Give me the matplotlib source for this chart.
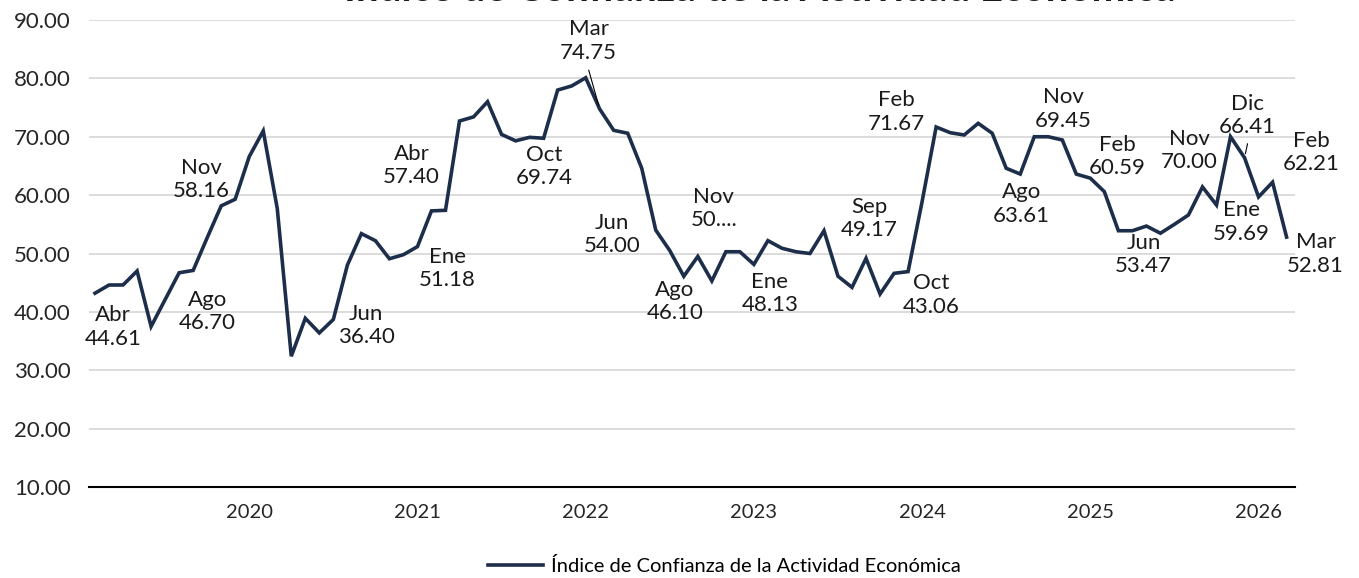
import matplotlib
matplotlib.use("Agg")
import matplotlib.pyplot as plt
import numpy as np
import pandas as pd

# Monthly index, Feb 2019 .. Mar 2026
months = pd.date_range("2019-02-01", periods=86, freq="MS")
values = [
    43.2, 44.6, 44.61, 47.0, 37.5, 42.1, 46.70, 47.1, 52.7, 58.16, 59.3,
    66.6, 71.0, 57.7, 32.4, 38.9, 36.40, 38.7, 48.0, 53.4, 52.2, 49.1, 49.8,
    51.18, 57.3, 57.40, 72.7, 73.4, 76.0, 70.4, 69.3, 69.9, 69.74, 78.0, 78.7,
    80.1, 74.75, 71.1, 70.6, 64.6, 54.00, 50.5, 46.10, 49.5, 45.3, 50.3, 50.3,
    48.13, 52.2, 50.9, 50.3, 50.0, 53.9, 46.1, 44.2, 49.17, 43.06, 46.6, 46.9,
    58.9, 71.67, 70.7, 70.3, 72.3, 70.6, 64.6, 63.61, 70.0, 70.0, 69.45, 63.6,
    62.9, 60.59, 53.9, 53.9, 54.7, 53.47, 55.0, 56.6, 61.4, 58.3, 70.00, 66.41,
    59.69, 62.21, 52.81,
]

# data labels: point index -> text
label_idx = [2, 6, 9, 16, 23, 25, 32, 36, 40, 42, 45, 47, 55, 56, 60, 66,
             69, 72, 76, 81, 82, 83, 84, 85]
label_text = [
    "Abr\n44.61", "Ago\n46.70", "Nov\n58.16", "Jun\n36.40", "Ene\n51.18",
    "Abr\n57.40", "Oct\n69.74", "Mar\n74.75", "Jun\n54.00", "Ago\n46.10",
    "Nov\n50....", "Ene\n48.13", "Sep\n49.17", "Oct\n43.06", "Feb\n71.67",
    "Ago\n63.61", "Nov\n69.45", "Feb\n60.59", "Jun\n53.47", "Nov\n70.00",
    "Dic\n66.41", "Ene\n59.69", "Feb\n62.21", "Mar\n52.81",
]
# label offsets from the point, in pixels (x right, y down)
label_off = [
    (-10, 42), (28, 39), (-20, -26), (47, -7), (30, 22), (-34, -45),
    (1, 28), (-11, -68), (-44, 4), (-9, 25), (-12, -43), (16, 29),
    (3, -40), (51, 1), (-40, -15), (1, 30), (1, -31), (13, -35),
    (-17, 21), (-41, 14), (3, -42), (-17, 25), (39, -30), (29, 17),
]
leader_idx = [36, 82]

yticks = [10, 20, 30, 40, 50, 60, 70, 80, 90]
title = "Índice de Confianza de la Actividad Económica"
series_name = "Índice de Confianza de la Actividad Económica"

LINE = "#1d2e4b"
plt.rcParams["font.family"] = ["Lato", "DejaVu Sans"]

fig = plt.figure(figsize=(13.59, 5.78), dpi=100)
ax = fig.add_axes([89 / 1359, 1 - 487 / 578, (1295 - 89) / 1359, (487 - 20) / 578])

x = np.arange(len(values))
ax.plot(x, values, color=LINE, lw=2.6, solid_joinstyle="miter", label=series_name,
        zorder=3)

ax.set_xlim(-0.43, 85.6)
ax.set_ylim(10, 90)
ax.set_yticks(yticks)
ax.set_yticklabels([f"{v:.2f}" for v in yticks])
jan = [i for i, m in enumerate(months) if m.month == 1]
ax.set_xticks(jan)
ax.set_xticklabels([str(months[i].year) for i in jan])

ax.grid(axis="y", color="#d9d9d9", lw=1.3, zorder=0)
ax.set_axisbelow(True)
for s in ["top", "right", "left"]:
    ax.spines[s].set_visible(False)
ax.spines["bottom"].set_color("black")
ax.spines["bottom"].set_linewidth(1.5)
ax.spines["bottom"].set_zorder(4)
ax.tick_params(axis="y", length=0, pad=13, labelsize=16, colors="#262626")
ax.tick_params(axis="x", length=0, pad=12, labelsize=14.5, colors="#262626")

for i, txt, (dx, dy) in zip(label_idx, label_text, label_off):
    ax.annotate(txt, (i, values[i]), xytext=(dx, -dy), textcoords="offset pixels",
                ha="center", va="center", fontsize=16, color="#1a1a1a",
                linespacing=1.2, zorder=5)
    if i in leader_idx:
        ly = -dy - 29 if i == 36 else -dy - 28
        ax.annotate("", (i, values[i]), xytext=(dx, ly), textcoords="offset pixels",
                    arrowprops=dict(arrowstyle="-", color="black", lw=0.8,
                                    shrinkA=0, shrinkB=3))

# title sits almost entirely above the canvas, as in the source image
fig.text(0.559, 1 - 0.6 / 578, title, ha="center", va="baseline", fontsize=29,
         fontweight="bold", color="#1a1a1a")

fig.legend(loc="center", bbox_to_anchor=(0.533, 0.021), frameon=False,
           fontsize=14.5, handlelength=2.7, handletextpad=0.4)

fig.savefig("out.png", dpi=100)
